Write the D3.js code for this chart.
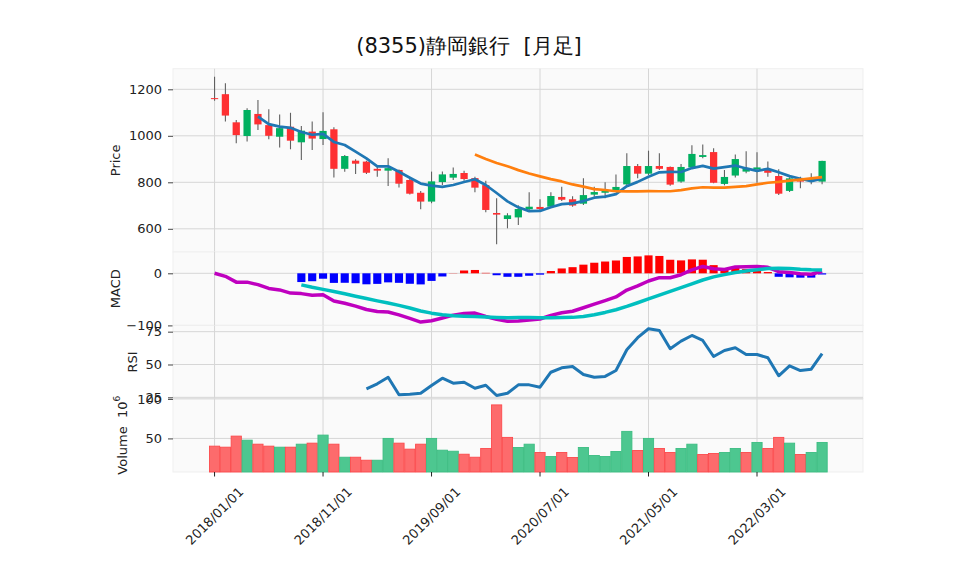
<!DOCTYPE html>
<html>
<head>
	<meta charset="UTF-8">
	<script src="https://d3js.org/d3.v7.min.js"></script>
	<title>(8355)静岡銀行 [月足]</title>
	<style>
		body { margin: 0; background: #fff; }
		text { font-family: "DejaVu Sans", sans-serif; }
	</style>
</head>
<body>
	<svg></svg>
	<script type="text/javascript">
		const width = 958;
		const height = 575;

		const months = ["2018-01","2018-02","2018-03","2018-04","2018-05","2018-06","2018-07","2018-08","2018-09","2018-10",
			"2018-11","2018-12","2019-01","2019-02","2019-03","2019-04","2019-05","2019-06","2019-07","2019-08",
			"2019-09","2019-10","2019-11","2019-12","2020-01","2020-02","2020-03","2020-04","2020-05","2020-06",
			"2020-07","2020-08","2020-09","2020-10","2020-11","2020-12","2021-01","2021-02","2021-03","2021-04",
			"2021-05","2021-06","2021-07","2021-08","2021-09","2021-10","2021-11","2021-12","2022-01","2022-02",
			"2022-03","2022-04","2022-05","2022-06","2022-07","2022-08","2022-09"];

		const open  = [1162,1179,1058,999,1094,1046,996,1039,972,1018,986,1028,858,893,889,858,850,853,810,755,
			717,801,820,840,818,788,668,642,649,684,694,695,737,727,708,747,755,764,791,870,
			837,870,866,803,864,909,930,793,829,846,856,853,827,763,813,806,803];
		const high  = [1254,1226,1068,1118,1154,1114,1092,1099,1042,1061,1101,1037,917,899,893,874,903,855,815,763,
			846,846,864,850,824,807,731,667,701,757,727,757,781,740,817,781,800,834,925,879,
			936,925,868,879,959,963,946,853,920,934,929,889,856,822,824,839,893];
		const low   = [1151,1061,968,975,1025,985,950,942,896,939,960,821,845,836,836,824,784,778,747,684,
			710,788,810,807,757,671,533,602,616,678,681,689,720,695,702,738,731,760,784,817,
			831,853,785,798,860,903,796,787,821,839,798,824,745,758,774,792,792];
		const close = [1160,1087,1003,1111,1049,1000,1033,979,1022,988,1021,858,913,880,841,850,861,794,751,717,
			804,834,836,814,777,681,661,658,685,695,685,741,725,700,745,758,764,780,870,837,
			870,858,790,866,922,917,798,823,900,860,864,841,751,817,803,813,892];
		const volume = [40.2,38.9,52.9,47.8,42.7,40.2,38.9,38.9,42.7,44.0,54.2,42.7,26.2,26.2,22.4,22.4,50.0,44.0,36.4,42.7,
			50.0,35.1,33.8,30.0,26.2,37.3,92.4,51.3,38.5,42.7,32.2,27.1,32.2,25.8,38.5,28.4,27.1,33.5,58.9,34.7,
			50.0,37.3,32.2,37.3,42.7,29.6,30.9,32.2,37.3,32.2,44.9,37.3,51.3,44.0,29.6,32.2,44.9];

		// moving averages, first value at index 4 (5) and 24 (25)
		const ma5 = [1082.0,1050.0,1039.2,1034.4,1016.6,1004.4,1008.6,973.6,960.4,932.0,902.6,868.4,869.0,845.2,819.4,794.6,
			785.4,780.0,788.4,801.0,813.0,788.4,753.8,718.2,692.4,676.0,676.8,692.8,706.2,709.2,719.2,733.8,738.4,749.4,
			783.4,801.8,824.2,843.0,845.0,844.2,861.2,870.6,858.6,865.2,872.0,859.6,849.0,857.6,843.2,826.6,815.2,805.0,815.2];
		const ma25 = [919.3,900.2,883.1,869.3,852.3,838.1,825.5,813.8,803.7,790.8,781.1,770.6,766.8,761.5,761.1,760.9,
			761.7,761.6,761.4,766.0,774.2,778.8,777.3,776.8,780.2,783.6,790.9,798.1,801.8,807.1,811.4,816.5,822.6];

		const macd = [0,-5.8,-17.0,-17.0,-21.7,-29.1,-31.9,-38.0,-39.0,-42.0,-41.2,-53.2,-57.5,-62.9,-69.5,-73.2,-74.4,-79.8,
			-86.6,-93.6,-91.1,-85.7,-80.3,-77.0,-76.4,-82.8,-88.4,-92.0,-91.7,-89.6,-87.7,-80.7,-75.7,-72.8,-66.2,-59.2,
			-52.5,-45.4,-32.2,-24.1,-14.8,-8.4,-8.6,-2.7,6.5,13.2,8.8,7.3,12.1,12.6,13.1,11.6,3.1,1.6,-0.7,-1.7,3.9];
		// signal and histogram start at index 8
		const signal = [-22.2,-26.8,-30.8,-34.8,-39.3,-43.9,-48.4,-52.9,-57.0,-61.5,-66.5,-72.3,-76.5,-79.6,-81.6,-82.4,
			-82.8,-83.7,-84.7,-85.3,-85.0,-84.9,-85.1,-85.1,-85.0,-84.6,-82.8,-79.5,-75.1,-70.0,-63.6,-56.5,-49.2,-41.7,
			-34.6,-27.5,-20.2,-12.9,-6.9,-2.5,1.5,4.5,6.9,9.2,9.8,9.3,7.7,6.6,6.2];
		const hist = [-16.8,-15.2,-10.4,-18.4,-18.2,-19.0,-21.1,-20.3,-17.4,-18.3,-20.1,-21.3,-14.6,-6.1,0.4,5.4,6.4,0.9,
			-3.7,-6.7,-6.7,-4.7,-2.6,4.4,9.3,11.8,16.6,20.3,22.6,24.6,31.4,32.4,34.4,33.3,26.0,24.8,26.7,26.1,15.7,9.8,
			10.6,8.1,6.2,2.4,-6.7,-7.7,-8.4,-8.3,-2.3];

		// RSI starts at index 14
		const rsi = [31.5,35.3,40.3,26.9,27.4,28.1,34.0,39.6,35.8,36.5,31.9,34.2,26.4,28.1,34.5,34.5,32.7,44.1,47.5,48.5,
			42.4,40.3,40.9,45.4,61.2,70.4,77.2,75.9,62.0,67.8,72.1,68.3,56.1,60.7,62.7,57.6,57.6,55.1,41.4,49.0,45.4,46.4,58.2];

		const xTicks = [0, 10, 20, 30, 40, 50];
		const priceTicks = [600, 800, 1000, 1200];
		const macdTicks = [-100, 0];
		const rsiTicks = [25, 50, 75];
		const volTicks = [50, 100];

		const left = 173, right = 863;
		const panels = {
			price: [68.7, 252],
			macd: [252, 325.5],
			rsi: [325.5, 398.5],
			vol: [398.5, 472]
		};

		const upColor = "#00b060", downColor = "#fe3032";
		const gridColor = "#d6d6d6";

		const x = d3.scaleLinear().domain([-3.83, 59.77]).range([left, right]);
		const step = x(1) - x(0);

		const yPrice = d3.scaleLinear().domain([500.2, 1288.6]).range([panels.price[1], panels.price[0]]);
		const yMacd = d3.scaleLinear().domain([-100.2, 40.9]).range([panels.macd[1], panels.macd[0]]);
		const yRsi = d3.scaleLinear().domain([24.1, 79.7]).range([panels.rsi[1], panels.rsi[0]]);
		const yVol = d3.scaleLinear().domain([7.5, 100.5]).range([panels.vol[1], panels.vol[0]]);

		const svg = d3.select("svg")
			.attr("width", width)
			.attr("height", height)
			.attr("viewBox", [0, 0, width, height]);

		svg.append("rect").attr("width", width).attr("height", height).attr("fill", "#fff");

		// panel backgrounds, grids, y axes
		const panelDefs = [
			{key: "price", y: yPrice, ticks: priceTicks, label: "Price", lx: 115},
			{key: "macd", y: yMacd, ticks: macdTicks, label: "MACD", lx: 115},
			{key: "rsi", y: yRsi, ticks: rsiTicks, label: "RSI", lx: 132},
			{key: "vol", y: yVol, ticks: volTicks, label: null, lx: 122}
		];

		panelDefs.forEach(p => {
			const [t, b] = panels[p.key];
			svg.append("rect")
				.attr("x", left).attr("y", t)
				.attr("width", right - left).attr("height", b - t)
				.attr("fill", "#fafafa")
				.attr("stroke", "#efefef")
				.attr("stroke-width", 1);

			svg.append("g")
				.attr("stroke", gridColor)
				.attr("stroke-width", 1)
				.selectAll("line")
				.data(xTicks)
				.join("line")
					.attr("x1", d => x(d)).attr("x2", d => x(d))
					.attr("y1", t).attr("y2", b);

			svg.append("g")
				.attr("stroke", gridColor)
				.attr("stroke-width", 1)
				.selectAll("line")
				.data(p.ticks)
				.join("line")
					.attr("x1", left).attr("x2", right)
					.attr("y1", d => p.y(d)).attr("y2", d => p.y(d));

			svg.append("g")
				.attr("transform", `translate(${left},0)`)
				.call(d3.axisLeft(p.y).tickValues(p.ticks).tickSize(5).tickPadding(6).tickFormat(d3.format("d")))
				.call(g => g.select(".domain").remove())
				.call(g => g.selectAll(".tick line").attr("stroke", "#444"))
				.call(g => g.selectAll(".tick text")
					.attr("fill", "#222")
					.attr("font-size", 13)
					.attr("font-family", "DejaVu Sans"));

			if (p.label) {
				svg.append("text")
					.attr("transform", `translate(${p.lx},${(t + b) / 2}) rotate(-90)`)
					.attr("text-anchor", "middle")
					.attr("dy", "0.35em")
					.attr("font-size", 13)
					.attr("fill", "#222")
					.text(p.label);
			}
		});

		// volume label with offset
		const vl = svg.append("text")
			.attr("transform", `translate(122,${(panels.vol[0] + panels.vol[1]) / 2}) rotate(-90)`)
			.attr("text-anchor", "middle")
			.attr("dy", "0.35em")
			.attr("font-size", 13)
			.attr("fill", "#222")
			.style("white-space", "pre");
		vl.append("tspan").text("Volume  10");
		vl.append("tspan").attr("font-size", 9).attr("dy", "-0.75em").text("6");

		// candles
		const candles = svg.append("g");
		const idx = d3.range(close.length);

		candles.append("g")
			.attr("stroke", "#606060")
			.attr("stroke-width", 1.1)
			.selectAll("line")
			.data(idx)
			.join("line")
				.attr("x1", i => x(i)).attr("x2", i => x(i))
				.attr("y1", i => yPrice(high[i])).attr("y2", i => yPrice(low[i]));

		const bodyW = step * 0.67;
		candles.append("g")
			.selectAll("rect")
			.data(idx)
			.join("rect")
				.attr("x", i => x(i) - bodyW / 2)
				.attr("width", bodyW)
				.attr("y", i => yPrice(Math.max(open[i], close[i])))
				.attr("height", i => Math.max(1, Math.abs(yPrice(open[i]) - yPrice(close[i]))))
				.attr("fill", i => close[i] >= open[i] ? upColor : downColor);

		const line = d3.line().x(d => x(d[0])).y(d => d[1]);

		svg.append("path")
			.attr("fill", "none")
			.attr("stroke", "#1f77b4")
			.attr("stroke-width", 2.7)
			.attr("stroke-linejoin", "round")
			.attr("d", line(ma5.map((v, k) => [k + 4, yPrice(v)])));

		svg.append("path")
			.attr("fill", "none")
			.attr("stroke", "#ff7f0e")
			.attr("stroke-width", 2.7)
			.attr("stroke-linejoin", "round")
			.attr("d", line(ma25.map((v, k) => [k + 24, yPrice(v)])));

		// MACD
		const hW = step * 0.75;
		svg.append("g")
			.selectAll("rect")
			.data(hist)
			.join("rect")
				.attr("x", (d, k) => x(k + 8) - hW / 2)
				.attr("width", hW)
				.attr("y", d => yMacd(Math.max(0, d)))
				.attr("height", d => Math.abs(yMacd(d) - yMacd(0)))
				.attr("fill", d => d >= 0 ? "#ff0000" : "#0000ff");

		svg.append("path")
			.attr("fill", "none")
			.attr("stroke", "#bf00bf")
			.attr("stroke-width", 3.5)
			.attr("stroke-linejoin", "round")
			.attr("d", line(macd.map((v, k) => [k, yMacd(v)])));

		svg.append("path")
			.attr("fill", "none")
			.attr("stroke", "#00bfbf")
			.attr("stroke-width", 3.5)
			.attr("stroke-linejoin", "round")
			.attr("d", line(signal.map((v, k) => [k + 8, yMacd(v)])));

		// RSI
		svg.append("path")
			.attr("fill", "none")
			.attr("stroke", "#1f77b4")
			.attr("stroke-width", 3)
			.attr("stroke-linejoin", "round")
			.attr("d", line(rsi.map((v, k) => [k + 14, yRsi(v)])));

		// volume, coloured against previous close
		const isUp = i => i === 0 ? close[i] >= open[i] : close[i] >= close[i - 1];
		const vW = step * 0.94;
		svg.append("g")
			.selectAll("rect")
			.data(idx)
			.join("rect")
				.attr("x", i => x(i) - vW / 2)
				.attr("width", vW)
				.attr("y", i => yVol(volume[i]))
				.attr("height", i => yVol.range()[0] - yVol(volume[i]))
				.attr("fill", i => isUp(i) ? "#4dc790" : "#fd6b6c")
				.attr("stroke", i => isUp(i) ? "#3cbd82" : "#fc4a4c")
				.attr("stroke-width", 0.9);

		// x axis
		const fmt = d3.timeFormat("%Y/%m/%d");
		const parse = d3.timeParse("%Y-%m");
		const xAxis = svg.append("g");
		xAxis.selectAll("line")
			.data(xTicks)
			.join("line")
				.attr("x1", d => x(d)).attr("x2", d => x(d))
				.attr("y1", panels.vol[1]).attr("y2", panels.vol[1] + 4.5)
				.attr("stroke", "#222");
		xAxis.selectAll("text")
			.data(xTicks)
			.join("text")
				.attr("transform", d => `translate(${x(d)},516) rotate(-45)`)
				.attr("text-anchor", "middle")
				.attr("dy", "0.35em")
				.attr("font-size", 13)
				.attr("fill", "#222")
				.text(d => fmt(parse(months[d])));

		// title
		svg.append("text")
			.attr("x", 469)
			.attr("y", 53)
			.attr("text-anchor", "middle")
			.attr("font-size", 21)
			.attr("font-family", "'Noto Sans CJK JP', sans-serif")
			.attr("fill", "#111")
			.style("white-space", "pre")
			.text("(8355)静岡銀行  [月足]");
	</script>
</body>
</html>
